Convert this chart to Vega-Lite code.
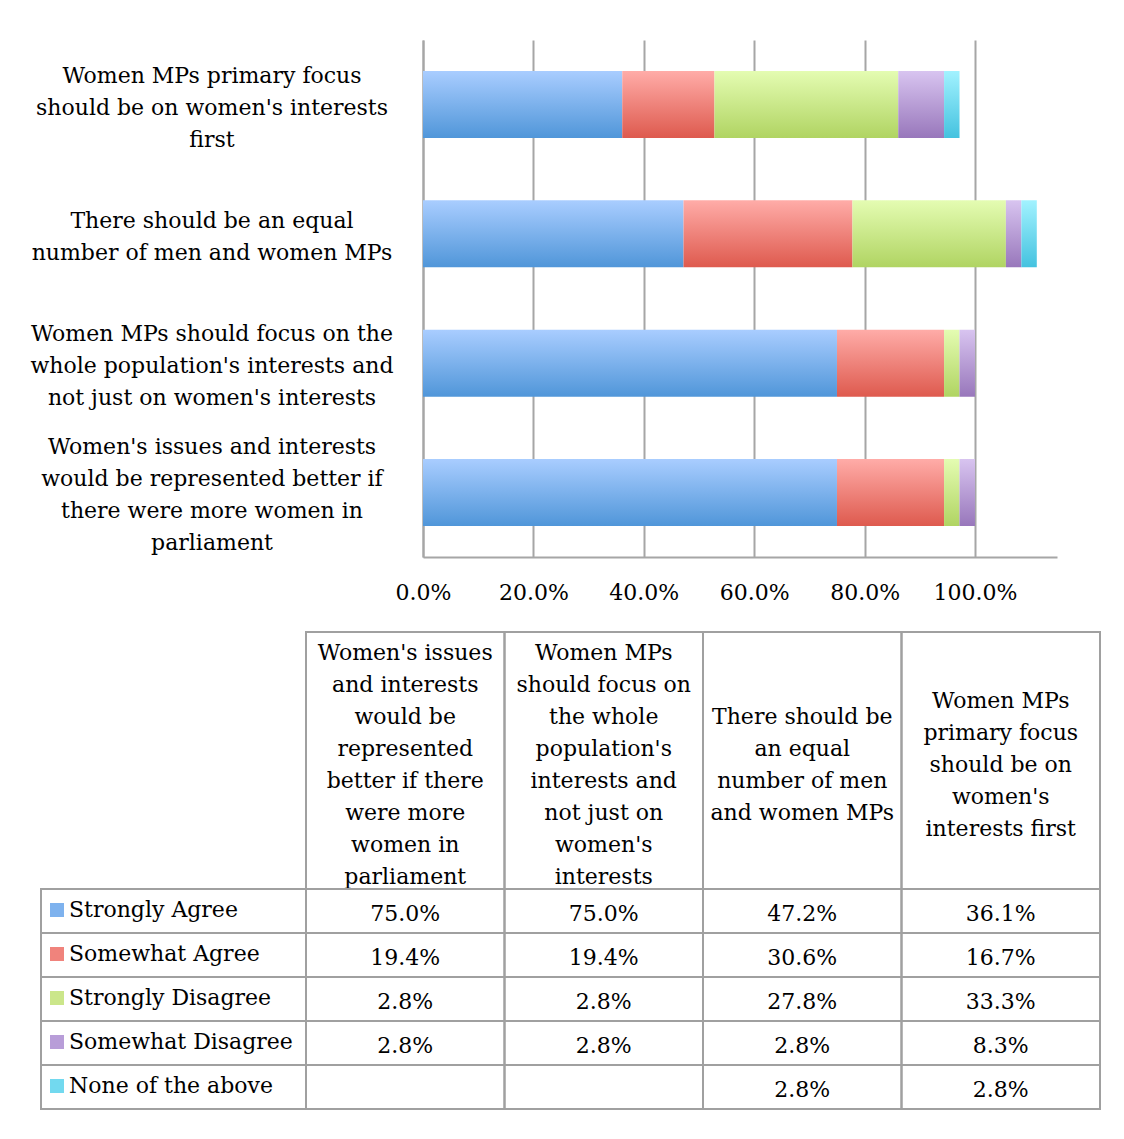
{
  "$schema": "https://vega.github.io/schema/vega-lite/v6.json",
  "background": "white",
  "padding": {"left": 30, "top": 40, "right": 0, "bottom": 0},
  "config": {"view": {"stroke": null}, "font": "DejaVu Serif", "text": {"font": "DejaVu Serif"}},
  "datasets": {
    "questions": [
      {"q": "issues", "col": 1, "chartLabel": "Women's issues and interests|would be represented better if|there were more women in|parliament", "tableLabel": "Women's issues|and interests|would be|represented|better if there|were more|women in|parliament"},
      {"q": "whole", "col": 2, "chartLabel": "Women MPs should focus on the|whole population's interests and|not just on women's interests", "tableLabel": "Women MPs|should focus on|the whole|population's|interests and|not just on|women's|interests"},
      {"q": "equal", "col": 3, "chartLabel": "There should be an equal|number of men and women MPs", "tableLabel": "There should be|an equal|number of men|and women MPs"},
      {"q": "primary", "col": 4, "chartLabel": "Women MPs primary focus|should be on women's interests|first", "tableLabel": "Women MPs|primary focus|should be on|women's|interests first"}
    ],
    "responseTypes": [
      {"response": "Strongly Agree", "rank": 1},
      {"response": "Somewhat Agree", "rank": 2},
      {"response": "Strongly Disagree", "rank": 3},
      {"response": "Somewhat Disagree", "rank": 4},
      {"response": "None of the above", "rank": 5}
    ],
    "answers": [
      {"q": "issues", "response": "Strongly Agree", "value": 0.75},
      {"q": "issues", "response": "Somewhat Agree", "value": 0.194},
      {"q": "issues", "response": "Strongly Disagree", "value": 0.028},
      {"q": "issues", "response": "Somewhat Disagree", "value": 0.028},
      {"q": "issues", "response": "None of the above", "value": null},
      {"q": "whole", "response": "Strongly Agree", "value": 0.75},
      {"q": "whole", "response": "Somewhat Agree", "value": 0.194},
      {"q": "whole", "response": "Strongly Disagree", "value": 0.028},
      {"q": "whole", "response": "Somewhat Disagree", "value": 0.028},
      {"q": "whole", "response": "None of the above", "value": null},
      {"q": "equal", "response": "Strongly Agree", "value": 0.472},
      {"q": "equal", "response": "Somewhat Agree", "value": 0.306},
      {"q": "equal", "response": "Strongly Disagree", "value": 0.278},
      {"q": "equal", "response": "Somewhat Disagree", "value": 0.028},
      {"q": "equal", "response": "None of the above", "value": 0.028},
      {"q": "primary", "response": "Strongly Agree", "value": 0.361},
      {"q": "primary", "response": "Somewhat Agree", "value": 0.167},
      {"q": "primary", "response": "Strongly Disagree", "value": 0.333},
      {"q": "primary", "response": "Somewhat Disagree", "value": 0.083},
      {"q": "primary", "response": "None of the above", "value": 0.028}
    ]
  },
  "columns": 1,
  "spacing": 28,
  "resolve": {"scale": {"fill": "independent"}, "legend": {"fill": "independent"}},
  "concat": [
    {
      "hconcat": [
        {
          "width": 342,
          "height": 517,
          "data": {"name": "questions"},
          "mark": {"type": "text", "lineBreak": "|", "lineHeight": 32, "fontSize": 22, "font": "DejaVu Serif", "color": "#000", "baseline": "middle", "align": "center",
                   "dy": {"expr": "3 - (length(split(datum.chartLabel, '|')) - 1) * 16"}},
          "encoding": {
            "y": {"field": "chartLabel", "type": "nominal", "sort": {"field": "col", "op": "min", "order": "descending"},
                  "scale": {"paddingInner": 0.482, "paddingOuter": 0.24}, "axis": null},
            "text": {"field": "chartLabel"}
          }
        },
        {
          "width": 634,
          "height": 517,
          "data": {"name": "answers"},
          "transform": [
            {"filter": "isValid(datum.value)"},
            {"lookup": "q", "from": {"data": {"name": "questions"}, "key": "q", "fields": ["chartLabel", "col"]}},
            {"lookup": "response", "from": {"data": {"name": "responseTypes"}, "key": "response", "fields": ["rank"]}},
            {"stack": "value", "groupby": ["q"], "sort": [{"field": "rank", "order": "ascending"}], "as": ["start", "end"]}
          ],
          "encoding": {
            "x": {
              "field": "start", "type": "quantitative",
              "scale": {"domain": [0, 1.1486], "nice": false},
              "axis": {"values": [0, 0.2, 0.4, 0.6, 0.8, 1.0], "format": ".1%", "title": null, "grid": true, "gridColor": "#a6a6a6", "gridWidth": 2, "domainColor": "#a6a6a6", "domainWidth": 2, "ticks": false, "labelPadding": 25, "labelFontSize": 22, "labelFont": "DejaVu Serif", "labelColor": "#000", "labelFlush": false, "labelOverlap": false}
            },
            "x2": {"field": "end"},
            "y": {
              "field": "chartLabel", "type": "nominal",
              "sort": {"field": "col", "op": "min", "order": "descending"},
              "scale": {"paddingInner": 0.482, "paddingOuter": 0.24},
              "axis": {"title": null, "ticks": false, "labels": false, "domainColor": "#a6a6a6", "domainWidth": 2}
            }
          },
          "layer": [
            {"transform": [{"filter": {"field": "response", "equal": "Strongly Agree"}}],
             "mark": {"type": "bar", "fill": {"gradient": "linear", "x1": 0, "y1": 0, "x2": 0, "y2": 1, "stops": [{"offset": 0, "color": "#a9cdff"}, {"offset": 1, "color": "#5096d9"}]}}},
            {"transform": [{"filter": {"field": "response", "equal": "Somewhat Agree"}}],
             "mark": {"type": "bar", "fill": {"gradient": "linear", "x1": 0, "y1": 0, "x2": 0, "y2": 1, "stops": [{"offset": 0, "color": "#ffaca8"}, {"offset": 1, "color": "#de5a4e"}]}}},
            {"transform": [{"filter": {"field": "response", "equal": "Strongly Disagree"}}],
             "mark": {"type": "bar", "fill": {"gradient": "linear", "x1": 0, "y1": 0, "x2": 0, "y2": 1, "stops": [{"offset": 0, "color": "#e4fcb2"}, {"offset": 1, "color": "#b0d462"}]}}},
            {"transform": [{"filter": {"field": "response", "equal": "Somewhat Disagree"}}],
             "mark": {"type": "bar", "fill": {"gradient": "linear", "x1": 0, "y1": 0, "x2": 0, "y2": 1, "stops": [{"offset": 0, "color": "#d8c4f0"}, {"offset": 1, "color": "#9877bb"}]}}},
            {"transform": [{"filter": {"field": "response", "equal": "None of the above"}}],
             "mark": {"type": "bar", "fill": {"gradient": "linear", "x1": 0, "y1": 0, "x2": 0, "y2": 1, "stops": [{"offset": 0, "color": "#a2f2ff"}, {"offset": 1, "color": "#44c2df"}]}}}
          ]
        }
      ],
      "spacing": 40,
      "bounds": "flush"
    },
    {
      "columns": 2,
      "spacing": 0,
      "bounds": "flush",
      "resolve": {"scale": {"fill": "independent"}, "legend": {"fill": "independent"}},
      "concat": [
        {"width": 265, "height": 257, "data": {"values": []}, "mark": "point"},
        {
          "width": 794, "height": 257,
          "data": {"name": "questions"},
          "encoding": {
            "x": {"field": "q", "type": "nominal", "sort": ["issues", "whole", "equal", "primary"], "axis": null, "scale": {"paddingInner": 0, "paddingOuter": 0}}
          },
          "layer": [
            {"mark": {"type": "rect", "fill": "transparent", "stroke": "#a0a0a0", "strokeWidth": 2}},
            {"mark": {"type": "text", "lineBreak": "|", "lineHeight": 32, "fontSize": 22, "font": "DejaVu Serif", "color": "#000", "baseline": "middle",
                      "dy": {"expr": "4 - (length(split(datum.tableLabel, '|')) - 1) * 16"}},
             "encoding": {"text": {"field": "tableLabel"}}}
          ]
        },
        {
          "width": 265, "height": 220,
          "data": {"name": "responseTypes"},
          "encoding": {
            "y": {"field": "response", "type": "nominal", "sort": ["Strongly Agree", "Somewhat Agree", "Strongly Disagree", "Somewhat Disagree", "None of the above"], "axis": null, "scale": {"paddingInner": 0, "paddingOuter": 0}}
          },
          "layer": [
            {"mark": {"type": "rect", "fill": "transparent", "stroke": "#a0a0a0", "strokeWidth": 2}},
            {"mark": {"type": "point", "shape": "square", "filled": true, "size": 0},
             "encoding": {
               "fill": {"field": "response", "type": "nominal",
                 "scale": {"domain": ["Strongly Agree", "Somewhat Agree", "Strongly Disagree", "Somewhat Disagree", "None of the above"], "range": ["#7eb2ee", "#f0837c", "#cbe68a", "#b89dd8", "#72d9ef"]},
                 "legend": {"orient": "top-left", "direction": "vertical", "offset": 5, "padding": 0, "title": "\u00a0", "titleFontSize": 4, "titlePadding": 1, "symbolType": "square", "symbolSize": 196, "symbolStrokeWidth": 0, "symbolOpacity": 1, "labelFont": "DejaVu Serif", "labelFontSize": 22, "labelColor": "#000", "labelOffset": 1, "rowPadding": 22, "labelLimit": 0}
               }
             }}
          ]
        },
        {
          "width": 794, "height": 220,
          "data": {"name": "answers"},
          "encoding": {
            "x": {"field": "q", "type": "nominal", "sort": ["issues", "whole", "equal", "primary"], "axis": null, "scale": {"paddingInner": 0, "paddingOuter": 0}},
            "y": {"field": "response", "type": "nominal", "sort": ["Strongly Agree", "Somewhat Agree", "Strongly Disagree", "Somewhat Disagree", "None of the above"], "axis": null, "scale": {"paddingInner": 0, "paddingOuter": 0}}
          },
          "layer": [
            {"mark": {"type": "rect", "fill": "transparent", "stroke": "#a0a0a0", "strokeWidth": 2}},
            {"transform": [{"filter": "isValid(datum.value)"}],
             "mark": {"type": "text", "fontSize": 22, "font": "DejaVu Serif", "color": "#000", "baseline": "middle", "dy": 3},
             "encoding": {"text": {"field": "value", "type": "quantitative", "format": ".1%"}}}
          ]
        }
      ]
    }
  ]
}
